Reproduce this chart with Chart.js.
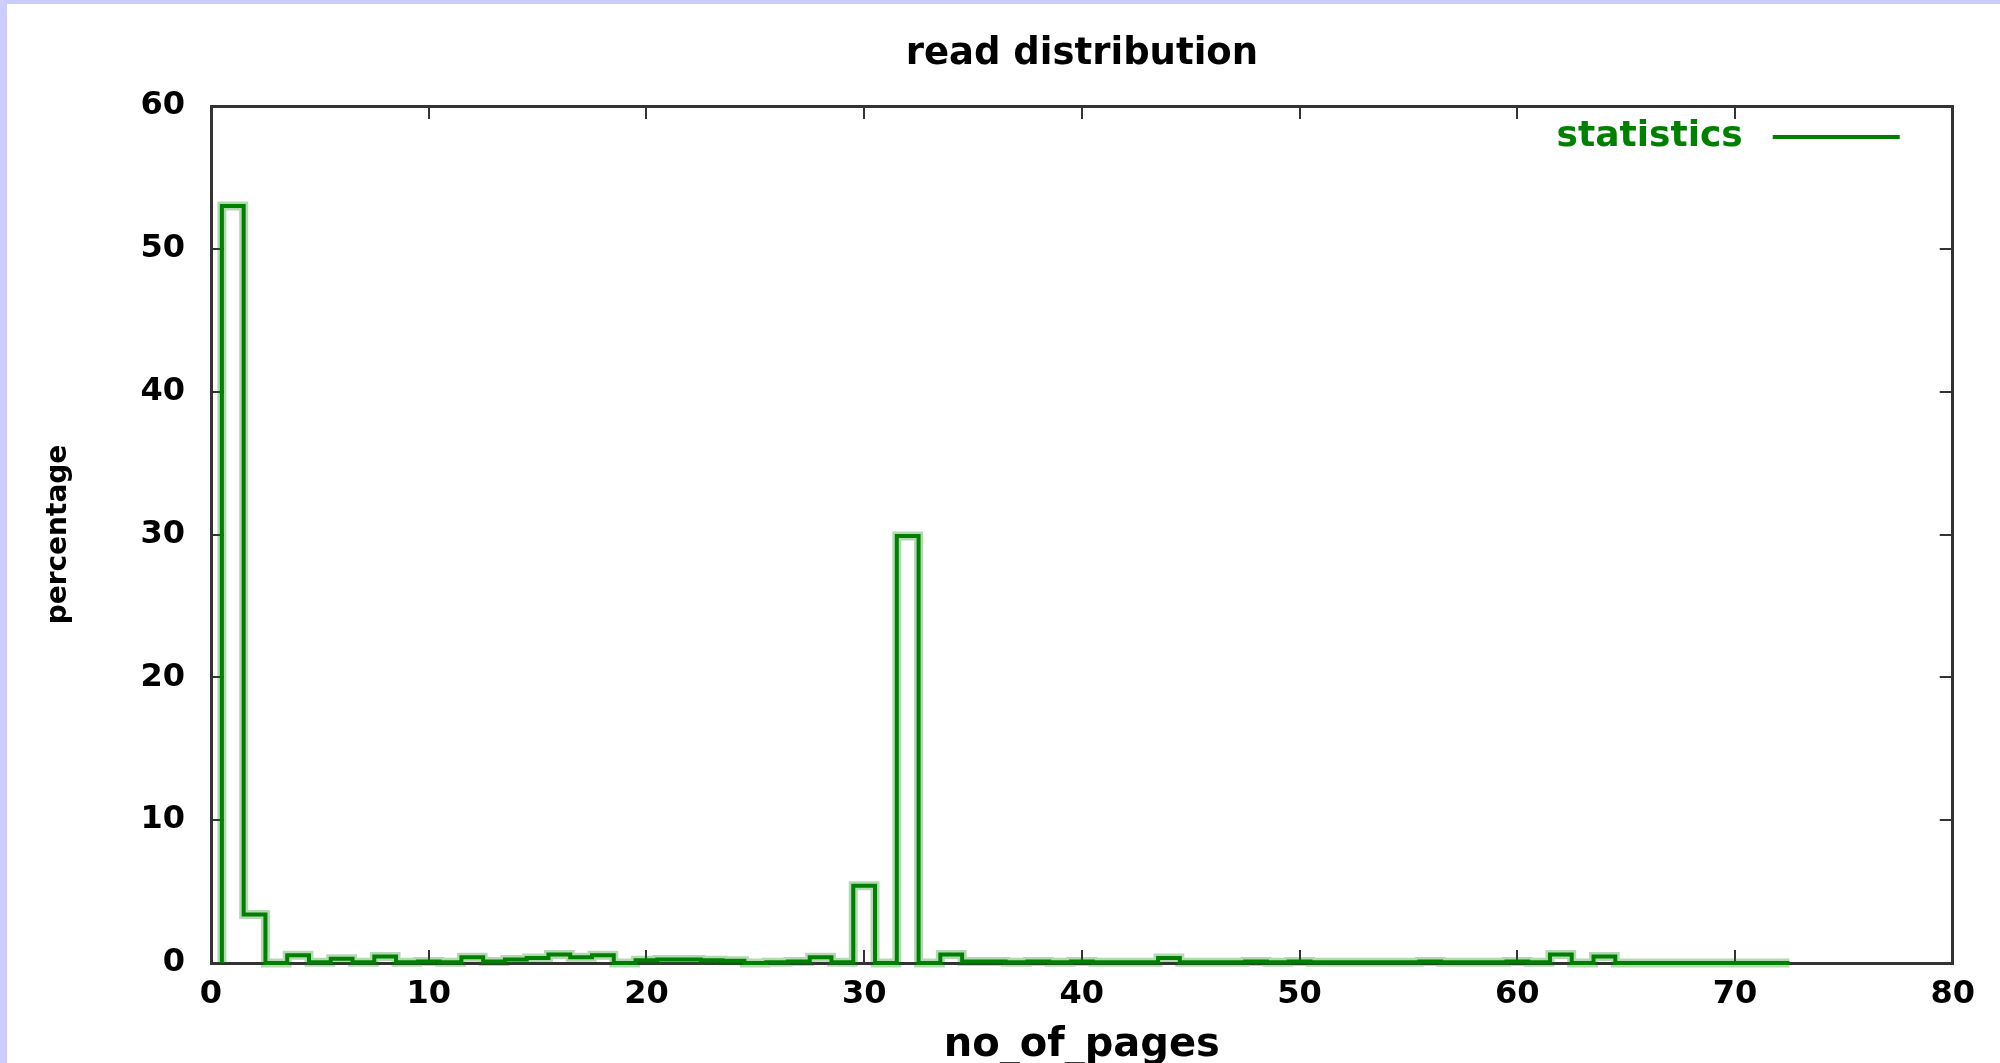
<!DOCTYPE html>
<html>
<head>
<meta charset="utf-8">
<title>read distribution</title>
<script src="https://cdn.jsdelivr.net/npm/chart.js@4.4.1/dist/chart.umd.min.js"></script>
<style>
  html, body { margin: 0; padding: 0; background: #ccccff; }
  .frame { position: absolute; left: 7px; top: 4px; width: 1993px; height: 1059px; background: #fff; }
  canvas { display: block; }
</style>
</head>
<body>
<div class="frame"><canvas id="chart" width="1993" height="1059"></canvas></div>
<script>
// histogram bins: number of pages read -> percentage of reads
const pages = [
   1,  2,  3,  4,  5,  6,  7,  8,  9, 10, 11, 12, 13, 14, 15, 16, 17, 18,
  19, 20, 21, 22, 23, 24, 25, 26, 27, 28, 29, 30, 31, 32, 33, 34, 35, 36,
  37, 38, 39, 40, 41, 42, 43, 44, 45, 46, 47, 48, 49, 50, 51, 52, 53, 54,
  55, 56, 57, 58, 59, 60, 61, 62, 63, 64, 65, 66, 67, 68, 69, 70, 71, 72
]
const percent = [
  53.0, 3.4, 0.0, 0.55, 0.05, 0.3, 0.05, 0.45, 0.05, 0.1, 0.05, 0.4, 0.1, 0.25, 0.35, 0.6, 0.4, 0.55,
  0.0, 0.2, 0.25, 0.25, 0.2, 0.15, 0.0, 0.05, 0.1, 0.4, 0.05, 5.4, 0.0, 29.9, 0.0, 0.6, 0.1, 0.1,
  0.05, 0.1, 0.05, 0.1, 0.05, 0.05, 0.05, 0.35, 0.05, 0.05, 0.05, 0.1, 0.05, 0.1, 0.05, 0.05, 0.05, 0.05,
  0.05, 0.1, 0.05, 0.05, 0.05, 0.1, 0.05, 0.6, 0.0, 0.45, 0.0, 0.0, 0.0, 0.0, 0.0, 0.0, 0.0, 0.0
]
const xTicks = [0, 10, 20, 30, 40, 50, 60, 70, 80]
const yTicks = [0, 10, 20, 30, 40, 50, 60]

const seriesName = 'statistics'
const green = 'rgb(0,128,0)'
const font = 'DejaVu Sans'

// gnuplot "histeps" outline: each bin is a flat step one unit wide
function histeps(xs, ys){
    let pts = [{ x: xs[0] - 0.5, y: 0 }]
    for(let i = 0; i < xs.length; i++){
        pts.push({ x: xs[i] - 0.5, y: ys[i] })
        pts.push({ x: xs[i] + 0.5, y: ys[i] })
    }
    pts.push({ x: xs[xs.length - 1] + 0.5, y: 0 })
    return pts
}
const steps = histeps(pages, percent)

// key drawn inside the plot, text first then the line sample (gnuplot style)
const gnuplotKey = {
    id: 'gnuplotKey',
    afterDatasetsDraw(chart){
        const ctx = chart.ctx
        const area = chart.chartArea
        const ds = chart.data.datasets[0]
        const y = area.top + 31
        ctx.save()
        ctx.font = 'bold 36px "' + font + '"'
        ctx.fillStyle = ds.borderColor
        ctx.textAlign = 'right'
        ctx.textBaseline = 'middle'
        ctx.fillText(ds.label, area.right - 210, y)
        ctx.strokeStyle = ds.borderColor
        ctx.lineWidth = 4
        ctx.beginPath()
        ctx.moveTo(area.right - 180, y)
        ctx.lineTo(area.right - 53, y)
        ctx.stroke()
        ctx.restore()
    }
}

const tickGrid = { drawOnChartArea: false, drawTicks: true, tickLength: -13, color: '#333', lineWidth: 2 }
const frame = { display: true, color: '#333', width: 3 }

const config = {
    type: 'line',
    data: {
        datasets: [
            {
                label: seriesName,
                data: steps,
                borderColor: green,
                borderWidth: 4,
                borderJoinStyle: 'miter',
                pointRadius: 0,
                fill: false,
                tension: 0,
                clip: false
            },
            {
                label: 'halo',
                data: steps,
                borderColor: 'rgba(0,128,0,0.3)',
                borderWidth: 9,
                borderJoinStyle: 'miter',
                pointRadius: 0,
                fill: false,
                tension: 0,
                clip: false
            }
        ]
    },
    options: {
        responsive: false,
        animation: false,
        devicePixelRatio: 1,
        layout: { padding: { left: 0, right: 47, top: 0, bottom: 0 } },
        plugins: {
            legend: { display: false },
            tooltip: { enabled: false }
        },
        scales: {
            x: {
                type: 'linear',
                position: 'bottom',
                min: xTicks[0],
                max: xTicks[xTicks.length - 1],
                afterBuildTicks: s => { s.ticks = xTicks.map(v => ({ value: v })) },
                ticks: { color: '#000', padding: 25, maxRotation: 0, font: { family: font, size: 32, weight: 'bold' } },
                grid: tickGrid,
                border: frame,
                title: {
                    display: true,
                    text: 'no_of_pages',
                    color: '#000',
                    font: { family: font, size: 40, weight: 'bold', lineHeight: 0.85 },
                    padding: { top: 0, bottom: 0 }
                },
                afterFit: s => { s.height = 100 }
            },
            y: {
                type: 'linear',
                position: 'left',
                min: yTicks[0],
                max: yTicks[yTicks.length - 1],
                afterBuildTicks: s => { s.ticks = yTicks.map(v => ({ value: v })) },
                ticks: { color: '#000', padding: 39, font: { family: font, size: 32, weight: 'bold' } },
                grid: tickGrid,
                border: frame,
                title: {
                    display: true,
                    text: 'percentage',
                    color: '#000',
                    font: { family: font, size: 28, weight: 'bold' },
                    padding: { top: 35, bottom: 0 }
                },
                afterFit: s => { s.width = 204 }
            },
            // mirrored top axis: inward ticks, carries the plot title centred on the plot
            x2: {
                type: 'linear',
                position: 'top',
                axis: 'x',
                min: xTicks[0],
                max: xTicks[xTicks.length - 1],
                afterBuildTicks: s => { s.ticks = xTicks.map(v => ({ value: v })) },
                ticks: { display: false },
                grid: tickGrid,
                border: frame,
                title: {
                    display: true,
                    text: 'read distribution',
                    color: '#000',
                    font: { family: font, size: 37, weight: 'bold' },
                    padding: { top: 28, bottom: 0 }
                },
                afterFit: s => { s.height = 102 }
            },
            y2: {
                type: 'linear',
                position: 'right',
                axis: 'y',
                min: yTicks[0],
                max: yTicks[yTicks.length - 1],
                afterBuildTicks: s => { s.ticks = yTicks.map(v => ({ value: v })) },
                ticks: { display: false },
                grid: tickGrid,
                border: frame,
                afterFit: s => { s.width = 0 }
            }
        }
    },
    plugins: [gnuplotKey]
}

new Chart(document.getElementById('chart'), config)
</script>
</body>
</html>
